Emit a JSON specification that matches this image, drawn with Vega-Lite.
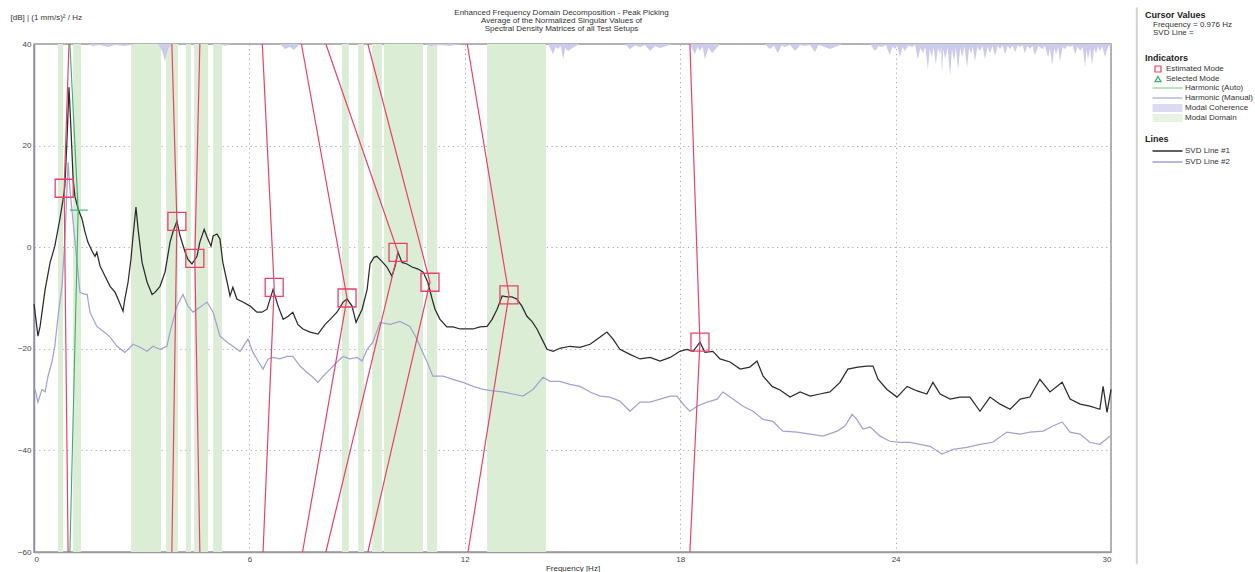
{
"$schema": "https://vega.github.io/schema/vega-lite/v6.json",
"width": 1077, "height": 508,
"autosize": {"type": "none"},
"padding": {"left": 34, "top": 44, "right": 144, "bottom": 20},
"background": "white",
"title": {"text": ["Enhanced Frequency Domain Decomposition - Peak Picking", "Average of the Normalized Singular Values of", "Spectral Density Matrices of all Test Setups"], "font": "Liberation Sans", "fontSize": 8, "fontWeight": "normal", "color": "#333", "lineHeight": 8, "anchor": "middle", "offset": -27, "dx": -11},
"config": {
  "font": "Liberation Sans",
  "view": {"stroke": "#9a9a9a", "strokeWidth": 1.5},
  "axis": {"labelFont": "Liberation Sans", "labelFontSize": 8, "labelColor": "#444", "titleFont": "Liberation Sans", "titleFontSize": 8, "titleFontWeight": "normal", "titleColor": "#333", "grid": true, "gridColor": "#a8a8a8", "gridDash": [1.2, 3.5], "gridWidth": 1, "ticks": false, "domain": true, "domainColor": "#9a9a9a", "domainWidth": 1.5, "zindex": 1},
  "axisX": {"labelPadding": 3, "titlePadding": 1},
  "axisY": {"labelPadding": 3, "titleAngle": 0, "titleAlign": "left", "titleBaseline": "middle", "titleX": -24, "titleY": -27, "domainColor": "#8c8cbf"},
  "legend": {"titleFont": "Liberation Sans", "titleFontSize": 9, "titleFontWeight": "bold", "titleColor": "#222", "labelFont": "Liberation Sans", "labelFontSize": 8, "labelColor": "#333", "padding": 0, "orient": "none"}
},
"datasets": {
  "bands": [{"f1":0.67,"f2":0.81},{"f1":1.09,"f2":1.31},{"f1":2.70,"f2":3.54},{"f1":3.68,"f2":4.01},{"f1":4.23,"f2":4.37},{"f1":4.46,"f2":4.85},{"f1":4.99,"f2":5.24},{"f1":8.58,"f2":8.77},{"f1":9.03,"f2":9.19},{"f1":9.42,"f2":9.69},{"f1":9.75,"f2":10.84},{"f1":10.95,"f2":11.23},{"f1":12.62,"f2":14.26}],
  "coh": [{"f":0,"db":40},{"f":1.50,"db":40},{"f":1.62,"db":39.6},{"f":1.84,"db":39.8},{"f":2.06,"db":39.4},{"f":2.26,"db":39.8},{"f":2.53,"db":39.6},{"f":2.81,"db":40},{"f":3.45,"db":40},{"f":3.57,"db":38.6},{"f":3.65,"db":36.6},{"f":3.73,"db":39.0},{"f":3.84,"db":40},{"f":5.18,"db":40},{"f":5.32,"db":39.6},{"f":5.46,"db":40},{"f":6.85,"db":40},{"f":6.99,"db":39.0},{"f":7.13,"db":39.4},{"f":7.24,"db":38.8},{"f":7.41,"db":40},{"f":10.89,"db":40},{"f":11.03,"db":39.6},{"f":11.31,"db":39.8},{"f":11.59,"db":39.6},{"f":11.87,"db":40},{"f":14.32,"db":40},{"f":14.46,"db":38.0},{"f":14.53,"db":39.4},{"f":14.60,"db":39.0},{"f":14.67,"db":39.6},{"f":14.74,"db":37.0},{"f":14.80,"db":39.2},{"f":14.87,"db":38.6},{"f":15.04,"db":39.4},{"f":15.21,"db":40},{"f":16.46,"db":40},{"f":16.60,"db":39.0},{"f":16.74,"db":39.7},{"f":16.88,"db":39.4},{"f":17.02,"db":39.8},{"f":17.16,"db":38.6},{"f":17.30,"db":39.6},{"f":17.44,"db":39.2},{"f":17.80,"db":40},{"f":18.27,"db":40},{"f":18.41,"db":38.0},{"f":18.48,"db":39.4},{"f":18.55,"db":38.6},{"f":18.62,"db":39.5},{"f":18.69,"db":37.0},{"f":18.79,"db":39.3},{"f":18.89,"db":38.2},{"f":19.11,"db":40},{"f":20.36,"db":40},{"f":20.50,"db":39.0},{"f":20.61,"db":39.7},{"f":20.72,"db":38.2},{"f":20.82,"db":39.7},{"f":20.92,"db":39.4},{"f":21.06,"db":39.8},{"f":21.20,"db":38.6},{"f":21.34,"db":39.8},{"f":21.48,"db":39.6},{"f":21.62,"db":39.8},{"f":21.75,"db":38.4},{"f":21.85,"db":39.8},{"f":21.95,"db":39.6},{"f":22.17,"db":39.0},{"f":22.53,"db":40},{"f":23.29,"db":40},{"f":23.43,"db":38.6},{"f":23.52,"db":39.6},{"f":23.62,"db":39.4},{"f":23.73,"db":39.8},{"f":23.84,"db":37.8},{"f":23.91,"db":39.5},{"f":23.98,"db":39.0},{"f":24.05,"db":39.6},{"f":24.12,"db":37.4},{"f":24.19,"db":39.4},{"f":24.26,"db":38.6},{"f":24.36,"db":39.7},{"f":24.46,"db":39.4},{"f":24.54,"db":39.8},{"f":24.62,"db":37.0},{"f":24.69,"db":39.2},{"f":24.76,"db":38.2},{"f":24.83,"db":39.4},{"f":24.90,"db":35.0},{"f":24.95,"db":39.0},{"f":25.01,"db":37.4},{"f":25.06,"db":39.4},{"f":25.12,"db":36.0},{"f":25.18,"db":39.2},{"f":25.24,"db":38.0},{"f":25.27,"db":39.5},{"f":25.29,"db":34.1},{"f":25.33,"db":39.0},{"f":25.38,"db":37.0},{"f":25.45,"db":39.2},{"f":25.52,"db":33.7},{"f":25.57,"db":39.0},{"f":25.63,"db":36.6},{"f":25.68,"db":39.3},{"f":25.74,"db":35.0},{"f":25.80,"db":39.2},{"f":25.85,"db":37.4},{"f":25.92,"db":39.5},{"f":25.99,"db":35.4},{"f":26.05,"db":39.3},{"f":26.10,"db":38.0},{"f":26.15,"db":39.5},{"f":26.21,"db":36.6},{"f":26.28,"db":39.4},{"f":26.35,"db":38.6},{"f":26.42,"db":39.6},{"f":26.49,"db":37.0},{"f":26.56,"db":39.5},{"f":26.63,"db":38.2},{"f":26.70,"db":39.6},{"f":26.77,"db":37.6},{"f":26.84,"db":39.6},{"f":26.91,"db":39.0},{"f":26.98,"db":39.7},{"f":27.05,"db":38.0},{"f":27.12,"db":39.6},{"f":27.19,"db":39.0},{"f":27.26,"db":39.7},{"f":27.33,"db":38.4},{"f":27.40,"db":39.7},{"f":27.47,"db":39.4},{"f":27.54,"db":39.8},{"f":27.60,"db":38.2},{"f":27.67,"db":39.6},{"f":27.74,"db":39.0},{"f":27.81,"db":39.6},{"f":27.88,"db":37.8},{"f":27.98,"db":39.6},{"f":28.08,"db":39.0},{"f":28.16,"db":39.6},{"f":28.25,"db":37.4},{"f":28.30,"db":39.2},{"f":28.36,"db":35.8},{"f":28.42,"db":39.2},{"f":28.47,"db":38.0},{"f":28.53,"db":39.4},{"f":28.58,"db":36.6},{"f":28.65,"db":39.4},{"f":28.72,"db":39.0},{"f":28.79,"db":39.7},{"f":28.86,"db":39.4},{"f":28.93,"db":39.7},{"f":29.00,"db":38.0},{"f":29.07,"db":39.5},{"f":29.14,"db":38.6},{"f":29.21,"db":39.4},{"f":29.28,"db":35.4},{"f":29.32,"db":39.0},{"f":29.36,"db":37.0},{"f":29.42,"db":39.2},{"f":29.47,"db":35.8},{"f":29.53,"db":39.2},{"f":29.58,"db":38.2},{"f":29.64,"db":39.5},{"f":29.69,"db":38.6},{"f":29.76,"db":39.5},{"f":29.83,"db":37.4},{"f":29.92,"db":39.5},{"f":30,"db":39.6}],
  "svd": [
{"line":"SVD Line #1","f":0,"db":-11.2},{"line":"SVD Line #1","f":0.06,"db":-14.6},{"line":"SVD Line #1","f":0.11,"db":-17.5},{"line":"SVD Line #1","f":0.17,"db":-15.6},{"line":"SVD Line #1","f":0.31,"db":-8.3},{"line":"SVD Line #1","f":0.45,"db":-3.0},{"line":"SVD Line #1","f":0.58,"db":0.2},{"line":"SVD Line #1","f":0.72,"db":5.5},{"line":"SVD Line #1","f":0.81,"db":9.4},{"line":"SVD Line #1","f":0.86,"db":12.0},{"line":"SVD Line #1","f":0.92,"db":21.3},{"line":"SVD Line #1","f":0.975,"db":31.5},{"line":"SVD Line #1","f":1.03,"db":23.2},{"line":"SVD Line #1","f":1.09,"db":13.4},{"line":"SVD Line #1","f":1.14,"db":10.0},{"line":"SVD Line #1","f":1.23,"db":7.5},{"line":"SVD Line #1","f":1.34,"db":5.5},{"line":"SVD Line #1","f":1.42,"db":3.0},{"line":"SVD Line #1","f":1.50,"db":1.0},{"line":"SVD Line #1","f":1.62,"db":-0.8},{"line":"SVD Line #1","f":1.70,"db":-1.8},{"line":"SVD Line #1","f":1.75,"db":-1.0},{"line":"SVD Line #1","f":1.84,"db":-3.7},{"line":"SVD Line #1","f":1.98,"db":-5.7},{"line":"SVD Line #1","f":2.12,"db":-7.7},{"line":"SVD Line #1","f":2.26,"db":-8.9},{"line":"SVD Line #1","f":2.34,"db":-10.2},{"line":"SVD Line #1","f":2.48,"db":-12.6},{"line":"SVD Line #1","f":2.53,"db":-10.2},{"line":"SVD Line #1","f":2.62,"db":-6.9},{"line":"SVD Line #1","f":2.70,"db":-2.4},{"line":"SVD Line #1","f":2.76,"db":2.2},{"line":"SVD Line #1","f":2.84,"db":7.9},{"line":"SVD Line #1","f":2.90,"db":3.5},{"line":"SVD Line #1","f":3.01,"db":-3.0},{"line":"SVD Line #1","f":3.15,"db":-6.9},{"line":"SVD Line #1","f":3.29,"db":-9.3},{"line":"SVD Line #1","f":3.37,"db":-8.9},{"line":"SVD Line #1","f":3.51,"db":-7.7},{"line":"SVD Line #1","f":3.65,"db":-4.9},{"line":"SVD Line #1","f":3.79,"db":1.0},{"line":"SVD Line #1","f":3.87,"db":3.0},{"line":"SVD Line #1","f":3.98,"db":5.1},{"line":"SVD Line #1","f":4.07,"db":2.2},{"line":"SVD Line #1","f":4.21,"db":-1.0},{"line":"SVD Line #1","f":4.29,"db":-2.4},{"line":"SVD Line #1","f":4.40,"db":-3.3},{"line":"SVD Line #1","f":4.54,"db":-1.8},{"line":"SVD Line #1","f":4.62,"db":1.0},{"line":"SVD Line #1","f":4.74,"db":3.5},{"line":"SVD Line #1","f":4.82,"db":2.0},{"line":"SVD Line #1","f":4.93,"db":0.2},{"line":"SVD Line #1","f":4.99,"db":2.2},{"line":"SVD Line #1","f":5.10,"db":2.6},{"line":"SVD Line #1","f":5.18,"db":1.6},{"line":"SVD Line #1","f":5.26,"db":-3.0},{"line":"SVD Line #1","f":5.38,"db":-6.9},{"line":"SVD Line #1","f":5.46,"db":-9.6},{"line":"SVD Line #1","f":5.54,"db":-7.9},{"line":"SVD Line #1","f":5.65,"db":-10.2},{"line":"SVD Line #1","f":5.82,"db":-10.8},{"line":"SVD Line #1","f":6.02,"db":-11.6},{"line":"SVD Line #1","f":6.21,"db":-12.8},{"line":"SVD Line #1","f":6.35,"db":-12.8},{"line":"SVD Line #1","f":6.49,"db":-12.2},{"line":"SVD Line #1","f":6.66,"db":-8.3},{"line":"SVD Line #1","f":6.80,"db":-11.6},{"line":"SVD Line #1","f":6.94,"db":-14.2},{"line":"SVD Line #1","f":7.08,"db":-13.6},{"line":"SVD Line #1","f":7.21,"db":-12.8},{"line":"SVD Line #1","f":7.35,"db":-15.2},{"line":"SVD Line #1","f":7.49,"db":-16.1},{"line":"SVD Line #1","f":7.69,"db":-16.7},{"line":"SVD Line #1","f":7.91,"db":-17.1},{"line":"SVD Line #1","f":8.11,"db":-15.2},{"line":"SVD Line #1","f":8.25,"db":-14.2},{"line":"SVD Line #1","f":8.44,"db":-12.8},{"line":"SVD Line #1","f":8.61,"db":-10.8},{"line":"SVD Line #1","f":8.72,"db":-10.2},{"line":"SVD Line #1","f":8.86,"db":-11.6},{"line":"SVD Line #1","f":8.97,"db":-14.8},{"line":"SVD Line #1","f":9.14,"db":-12.2},{"line":"SVD Line #1","f":9.28,"db":-8.3},{"line":"SVD Line #1","f":9.36,"db":-3.3},{"line":"SVD Line #1","f":9.47,"db":-2.0},{"line":"SVD Line #1","f":9.55,"db":-1.8},{"line":"SVD Line #1","f":9.69,"db":-2.8},{"line":"SVD Line #1","f":9.83,"db":-3.9},{"line":"SVD Line #1","f":9.97,"db":-5.7},{"line":"SVD Line #1","f":10.06,"db":-3.7},{"line":"SVD Line #1","f":10.14,"db":-1.0},{"line":"SVD Line #1","f":10.25,"db":-3.0},{"line":"SVD Line #1","f":10.39,"db":-3.3},{"line":"SVD Line #1","f":10.53,"db":-3.9},{"line":"SVD Line #1","f":10.70,"db":-4.3},{"line":"SVD Line #1","f":10.84,"db":-4.9},{"line":"SVD Line #1","f":10.97,"db":-6.9},{"line":"SVD Line #1","f":11.09,"db":-10.2},{"line":"SVD Line #1","f":11.17,"db":-12.2},{"line":"SVD Line #1","f":11.31,"db":-14.2},{"line":"SVD Line #1","f":11.50,"db":-15.7},{"line":"SVD Line #1","f":11.67,"db":-15.7},{"line":"SVD Line #1","f":11.87,"db":-16.1},{"line":"SVD Line #1","f":12.06,"db":-16.1},{"line":"SVD Line #1","f":12.23,"db":-16.1},{"line":"SVD Line #1","f":12.42,"db":-15.7},{"line":"SVD Line #1","f":12.62,"db":-15.6},{"line":"SVD Line #1","f":12.76,"db":-14.2},{"line":"SVD Line #1","f":12.90,"db":-12.2},{"line":"SVD Line #1","f":13.04,"db":-9.6},{"line":"SVD Line #1","f":13.18,"db":-9.8},{"line":"SVD Line #1","f":13.31,"db":-9.8},{"line":"SVD Line #1","f":13.45,"db":-10.2},{"line":"SVD Line #1","f":13.59,"db":-11.6},{"line":"SVD Line #1","f":13.73,"db":-13.6},{"line":"SVD Line #1","f":13.87,"db":-14.6},{"line":"SVD Line #1","f":14.01,"db":-16.1},{"line":"SVD Line #1","f":14.15,"db":-18.1},{"line":"SVD Line #1","f":14.29,"db":-20.1},{"line":"SVD Line #1","f":14.46,"db":-20.5},{"line":"SVD Line #1","f":14.65,"db":-19.9},{"line":"SVD Line #1","f":14.93,"db":-19.5},{"line":"SVD Line #1","f":15.21,"db":-19.7},{"line":"SVD Line #1","f":15.49,"db":-19.1},{"line":"SVD Line #1","f":15.77,"db":-17.7},{"line":"SVD Line #1","f":15.96,"db":-16.7},{"line":"SVD Line #1","f":16.13,"db":-18.1},{"line":"SVD Line #1","f":16.32,"db":-20.1},{"line":"SVD Line #1","f":16.60,"db":-21.1},{"line":"SVD Line #1","f":16.88,"db":-22.0},{"line":"SVD Line #1","f":17.16,"db":-21.7},{"line":"SVD Line #1","f":17.44,"db":-22.4},{"line":"SVD Line #1","f":17.72,"db":-21.7},{"line":"SVD Line #1","f":17.99,"db":-20.5},{"line":"SVD Line #1","f":18.19,"db":-20.1},{"line":"SVD Line #1","f":18.36,"db":-20.5},{"line":"SVD Line #1","f":18.55,"db":-18.7},{"line":"SVD Line #1","f":18.69,"db":-20.7},{"line":"SVD Line #1","f":18.91,"db":-20.5},{"line":"SVD Line #1","f":19.11,"db":-22.0},{"line":"SVD Line #1","f":19.39,"db":-22.6},{"line":"SVD Line #1","f":19.67,"db":-24.0},{"line":"SVD Line #1","f":19.94,"db":-23.6},{"line":"SVD Line #1","f":20.14,"db":-22.4},{"line":"SVD Line #1","f":20.31,"db":-25.4},{"line":"SVD Line #1","f":20.56,"db":-27.4},{"line":"SVD Line #1","f":20.78,"db":-28.1},{"line":"SVD Line #1","f":21.06,"db":-29.5},{"line":"SVD Line #1","f":21.34,"db":-28.5},{"line":"SVD Line #1","f":21.62,"db":-29.3},{"line":"SVD Line #1","f":21.89,"db":-28.9},{"line":"SVD Line #1","f":22.17,"db":-28.5},{"line":"SVD Line #1","f":22.45,"db":-26.6},{"line":"SVD Line #1","f":22.67,"db":-24.0},{"line":"SVD Line #1","f":22.95,"db":-23.6},{"line":"SVD Line #1","f":23.20,"db":-23.4},{"line":"SVD Line #1","f":23.37,"db":-23.4},{"line":"SVD Line #1","f":23.51,"db":-26.0},{"line":"SVD Line #1","f":23.76,"db":-28.0},{"line":"SVD Line #1","f":24.04,"db":-29.5},{"line":"SVD Line #1","f":24.32,"db":-27.4},{"line":"SVD Line #1","f":24.60,"db":-28.3},{"line":"SVD Line #1","f":24.87,"db":-28.9},{"line":"SVD Line #1","f":25.04,"db":-26.6},{"line":"SVD Line #1","f":25.24,"db":-28.9},{"line":"SVD Line #1","f":25.52,"db":-29.9},{"line":"SVD Line #1","f":25.79,"db":-29.5},{"line":"SVD Line #1","f":26.07,"db":-29.5},{"line":"SVD Line #1","f":26.35,"db":-32.3},{"line":"SVD Line #1","f":26.63,"db":-29.5},{"line":"SVD Line #1","f":26.91,"db":-30.9},{"line":"SVD Line #1","f":27.19,"db":-31.9},{"line":"SVD Line #1","f":27.47,"db":-29.9},{"line":"SVD Line #1","f":27.74,"db":-29.5},{"line":"SVD Line #1","f":28.02,"db":-26.0},{"line":"SVD Line #1","f":28.30,"db":-28.5},{"line":"SVD Line #1","f":28.64,"db":-26.6},{"line":"SVD Line #1","f":28.86,"db":-29.9},{"line":"SVD Line #1","f":29.14,"db":-30.9},{"line":"SVD Line #1","f":29.41,"db":-31.3},{"line":"SVD Line #1","f":29.69,"db":-31.9},{"line":"SVD Line #1","f":29.78,"db":-27.4},{"line":"SVD Line #1","f":29.89,"db":-32.5},{"line":"SVD Line #1","f":30.0,"db":-28.0},
{"line":"SVD Line #2","f":0.03,"db":-28.0},{"line":"SVD Line #2","f":0.11,"db":-30.5},{"line":"SVD Line #2","f":0.22,"db":-28.0},{"line":"SVD Line #2","f":0.31,"db":-28.5},{"line":"SVD Line #2","f":0.39,"db":-25.4},{"line":"SVD Line #2","f":0.50,"db":-22.6},{"line":"SVD Line #2","f":0.58,"db":-19.5},{"line":"SVD Line #2","f":0.67,"db":-13.6},{"line":"SVD Line #2","f":0.78,"db":-7.7},{"line":"SVD Line #2","f":0.86,"db":1.6},{"line":"SVD Line #2","f":0.95,"db":16.7},{"line":"SVD Line #2","f":1.0,"db":11.4},{"line":"SVD Line #2","f":1.09,"db":4.9},{"line":"SVD Line #2","f":1.20,"db":-3.0},{"line":"SVD Line #2","f":1.28,"db":-8.9},{"line":"SVD Line #2","f":1.42,"db":-9.3},{"line":"SVD Line #2","f":1.48,"db":-9.3},{"line":"SVD Line #2","f":1.56,"db":-12.8},{"line":"SVD Line #2","f":1.75,"db":-15.6},{"line":"SVD Line #2","f":1.92,"db":-16.5},{"line":"SVD Line #2","f":2.12,"db":-17.7},{"line":"SVD Line #2","f":2.31,"db":-19.5},{"line":"SVD Line #2","f":2.53,"db":-20.7},{"line":"SVD Line #2","f":2.76,"db":-19.1},{"line":"SVD Line #2","f":2.95,"db":-19.7},{"line":"SVD Line #2","f":3.15,"db":-20.5},{"line":"SVD Line #2","f":3.31,"db":-19.5},{"line":"SVD Line #2","f":3.51,"db":-20.1},{"line":"SVD Line #2","f":3.70,"db":-19.5},{"line":"SVD Line #2","f":3.79,"db":-16.7},{"line":"SVD Line #2","f":3.98,"db":-11.6},{"line":"SVD Line #2","f":4.15,"db":-9.3},{"line":"SVD Line #2","f":4.29,"db":-11.6},{"line":"SVD Line #2","f":4.43,"db":-12.8},{"line":"SVD Line #2","f":4.62,"db":-11.8},{"line":"SVD Line #2","f":4.82,"db":-10.8},{"line":"SVD Line #2","f":4.99,"db":-12.8},{"line":"SVD Line #2","f":5.18,"db":-17.5},{"line":"SVD Line #2","f":5.38,"db":-18.7},{"line":"SVD Line #2","f":5.54,"db":-19.5},{"line":"SVD Line #2","f":5.74,"db":-20.5},{"line":"SVD Line #2","f":5.96,"db":-18.1},{"line":"SVD Line #2","f":6.10,"db":-20.7},{"line":"SVD Line #2","f":6.24,"db":-22.4},{"line":"SVD Line #2","f":6.38,"db":-24.0},{"line":"SVD Line #2","f":6.52,"db":-22.0},{"line":"SVD Line #2","f":6.66,"db":-21.7},{"line":"SVD Line #2","f":6.85,"db":-22.0},{"line":"SVD Line #2","f":7.05,"db":-21.5},{"line":"SVD Line #2","f":7.21,"db":-21.5},{"line":"SVD Line #2","f":7.41,"db":-23.4},{"line":"SVD Line #2","f":7.60,"db":-24.6},{"line":"SVD Line #2","f":7.77,"db":-25.6},{"line":"SVD Line #2","f":7.91,"db":-26.6},{"line":"SVD Line #2","f":8.05,"db":-25.4},{"line":"SVD Line #2","f":8.25,"db":-24.0},{"line":"SVD Line #2","f":8.44,"db":-22.6},{"line":"SVD Line #2","f":8.61,"db":-21.5},{"line":"SVD Line #2","f":8.80,"db":-22.0},{"line":"SVD Line #2","f":9.00,"db":-21.7},{"line":"SVD Line #2","f":9.14,"db":-22.4},{"line":"SVD Line #2","f":9.28,"db":-20.1},{"line":"SVD Line #2","f":9.44,"db":-18.7},{"line":"SVD Line #2","f":9.64,"db":-14.8},{"line":"SVD Line #2","f":9.92,"db":-15.2},{"line":"SVD Line #2","f":10.19,"db":-14.6},{"line":"SVD Line #2","f":10.47,"db":-15.6},{"line":"SVD Line #2","f":10.67,"db":-18.1},{"line":"SVD Line #2","f":10.75,"db":-19.5},{"line":"SVD Line #2","f":10.95,"db":-22.6},{"line":"SVD Line #2","f":11.11,"db":-25.4},{"line":"SVD Line #2","f":11.39,"db":-25.4},{"line":"SVD Line #2","f":11.67,"db":-26.0},{"line":"SVD Line #2","f":11.95,"db":-26.6},{"line":"SVD Line #2","f":12.23,"db":-27.4},{"line":"SVD Line #2","f":12.51,"db":-28.0},{"line":"SVD Line #2","f":12.79,"db":-28.3},{"line":"SVD Line #2","f":13.06,"db":-28.5},{"line":"SVD Line #2","f":13.34,"db":-28.9},{"line":"SVD Line #2","f":13.62,"db":-29.3},{"line":"SVD Line #2","f":13.90,"db":-28.0},{"line":"SVD Line #2","f":14.18,"db":-25.6},{"line":"SVD Line #2","f":14.37,"db":-26.4},{"line":"SVD Line #2","f":14.65,"db":-26.4},{"line":"SVD Line #2","f":14.93,"db":-27.0},{"line":"SVD Line #2","f":15.21,"db":-27.4},{"line":"SVD Line #2","f":15.49,"db":-28.5},{"line":"SVD Line #2","f":15.77,"db":-29.3},{"line":"SVD Line #2","f":16.04,"db":-29.5},{"line":"SVD Line #2","f":16.32,"db":-30.3},{"line":"SVD Line #2","f":16.60,"db":-32.3},{"line":"SVD Line #2","f":16.88,"db":-30.5},{"line":"SVD Line #2","f":17.16,"db":-30.5},{"line":"SVD Line #2","f":17.44,"db":-29.9},{"line":"SVD Line #2","f":17.72,"db":-29.3},{"line":"SVD Line #2","f":17.91,"db":-29.3},{"line":"SVD Line #2","f":18.08,"db":-30.9},{"line":"SVD Line #2","f":18.27,"db":-32.3},{"line":"SVD Line #2","f":18.47,"db":-31.3},{"line":"SVD Line #2","f":18.75,"db":-30.5},{"line":"SVD Line #2","f":19.03,"db":-29.9},{"line":"SVD Line #2","f":19.19,"db":-28.5},{"line":"SVD Line #2","f":19.47,"db":-29.9},{"line":"SVD Line #2","f":19.75,"db":-31.3},{"line":"SVD Line #2","f":20.03,"db":-32.3},{"line":"SVD Line #2","f":20.31,"db":-33.9},{"line":"SVD Line #2","f":20.58,"db":-34.3},{"line":"SVD Line #2","f":20.86,"db":-36.2},{"line":"SVD Line #2","f":21.25,"db":-36.4},{"line":"SVD Line #2","f":21.62,"db":-36.8},{"line":"SVD Line #2","f":21.98,"db":-37.2},{"line":"SVD Line #2","f":22.37,"db":-36.2},{"line":"SVD Line #2","f":22.59,"db":-35.2},{"line":"SVD Line #2","f":22.79,"db":-32.9},{"line":"SVD Line #2","f":22.92,"db":-33.9},{"line":"SVD Line #2","f":23.09,"db":-35.8},{"line":"SVD Line #2","f":23.29,"db":-35.4},{"line":"SVD Line #2","f":23.57,"db":-37.2},{"line":"SVD Line #2","f":23.84,"db":-38.2},{"line":"SVD Line #2","f":24.12,"db":-38.4},{"line":"SVD Line #2","f":24.40,"db":-38.4},{"line":"SVD Line #2","f":24.68,"db":-38.8},{"line":"SVD Line #2","f":24.96,"db":-39.2},{"line":"SVD Line #2","f":25.29,"db":-40.7},{"line":"SVD Line #2","f":25.60,"db":-39.8},{"line":"SVD Line #2","f":25.99,"db":-39.4},{"line":"SVD Line #2","f":26.35,"db":-38.8},{"line":"SVD Line #2","f":26.71,"db":-38.4},{"line":"SVD Line #2","f":27.10,"db":-36.4},{"line":"SVD Line #2","f":27.47,"db":-36.8},{"line":"SVD Line #2","f":27.74,"db":-36.4},{"line":"SVD Line #2","f":28.11,"db":-36.2},{"line":"SVD Line #2","f":28.38,"db":-35.2},{"line":"SVD Line #2","f":28.64,"db":-34.4},{"line":"SVD Line #2","f":28.86,"db":-36.4},{"line":"SVD Line #2","f":29.14,"db":-36.8},{"line":"SVD Line #2","f":29.41,"db":-38.4},{"line":"SVD Line #2","f":29.69,"db":-38.8},{"line":"SVD Line #2","f":29.97,"db":-37.2}
  ],
  "vlines": [{"m":1,"o":0,"f":0.975,"db":40},{"m":1,"o":1,"f":0.84,"db":11.6},{"m":1,"o":2,"f":0.95,"db":-60},{"m":2,"o":0,"f":3.84,"db":40},{"m":2,"o":1,"f":3.98,"db":5.1},{"m":2,"o":2,"f":3.84,"db":-60},{"m":3,"o":0,"f":4.62,"db":40},{"m":3,"o":1,"f":4.48,"db":-2.2},{"m":3,"o":2,"f":4.62,"db":-60},{"m":4,"o":0,"f":6.36,"db":40},{"m":4,"o":1,"f":6.69,"db":-7.9},{"m":4,"o":2,"f":6.38,"db":-60},{"m":5,"o":0,"f":7.45,"db":40},{"m":5,"o":1,"f":8.72,"db":-10.0},{"m":5,"o":2,"f":7.48,"db":-60},{"m":6,"o":0,"f":8.13,"db":40},{"m":6,"o":1,"f":10.14,"db":-1.0},{"m":6,"o":2,"f":8.13,"db":-60},{"m":7,"o":0,"f":9.30,"db":40},{"m":7,"o":1,"f":11.03,"db":-6.9},{"m":7,"o":2,"f":9.30,"db":-60},{"m":8,"o":0,"f":12.07,"db":40},{"m":8,"o":1,"f":13.23,"db":-9.4},{"m":8,"o":2,"f":12.09,"db":-60},{"m":9,"o":0,"f":18.27,"db":40},{"m":9,"o":1,"f":18.55,"db":-18.7},{"m":9,"o":2,"f":18.27,"db":-60}],
  "harm": [{"o":0,"f":1.0,"db":40},{"o":1,"f":1.23,"db":7.3},{"o":2,"f":1.0,"db":-60}],
  "cross": [{"f":1.0,"f2":1.5,"db":7.3}],
  "modes": [{"f":0.84,"db":11.6,"kind":"Estimated Mode"},{"f":3.98,"db":5.1,"kind":"Estimated Mode"},{"f":4.48,"db":-2.2,"kind":"Estimated Mode"},{"f":6.69,"db":-7.9,"kind":"Estimated Mode"},{"f":8.72,"db":-10.0,"kind":"Estimated Mode"},{"f":10.14,"db":-1.0,"kind":"Estimated Mode"},{"f":11.03,"db":-6.9,"kind":"Estimated Mode"},{"f":13.23,"db":-9.4,"kind":"Estimated Mode"},{"f":18.55,"db":-18.7,"kind":"Estimated Mode"}],
  "cursor": [{"cv":"Frequency = 0.976 Hz"},{"cv":"SVD Line ="}],
  "ind": [{"k":"Harmonic (Auto)"},{"k":"Harmonic (Manual)"},{"k":"Modal Coherence"},{"k":"Modal Domain"}]
},
"layer": [
  {"data": {"name": "bands"}, "mark": {"type": "rect", "color": "#dcedd5"},
   "encoding": {"x": {"field": "f1", "type": "quantitative", "scale": {"domain": [0, 30]}, "title": "Frequency [Hz]", "axis": {"values": [0, 6, 12, 18, 24, 30]}}, "x2": {"field": "f2"}}},
  {"data": {"name": "coh"}, "mark": {"type": "area", "color": "#cbcbeb", "opacity": 1},
   "encoding": {"x": {"field": "f", "type": "quantitative", "scale": {"domain": [0, 30]}, "title": "Frequency [Hz]", "axis": {"values": [0, 6, 12, 18, 24, 30]}}, "y": {"field": "db", "type": "quantitative", "scale": {"domain": [-60, 40]}, "title": "[dB] | (1 mm/s)² / Hz", "axis": {"values": [-60, -40, -20, 0, 20, 40]}}, "y2": {"datum": 40}}},
  {"data": {"name": "svd"}, "mark": {"type": "line", "strokeWidth": 1.25, "interpolate": "linear"},
   "encoding": {"x": {"field": "f", "type": "quantitative", "scale": {"domain": [0, 30]}, "title": "Frequency [Hz]", "axis": {"values": [0, 6, 12, 18, 24, 30]}}, "y": {"field": "db", "type": "quantitative", "scale": {"domain": [-60, 40]}, "title": "[dB] | (1 mm/s)² / Hz", "axis": {"values": [-60, -40, -20, 0, 20, 40]}},
     "color": {"field": "line", "type": "nominal", "scale": {"domain": ["SVD Line #1", "SVD Line #2"], "range": ["#2b2b2b", "#a2a2d4"]},
       "legend": {"title": "Lines", "orient": "none", "legendX": 1111, "legendY": 91, "symbolType": "M-3,0L3,0", "symbolSize": 100, "symbolStrokeWidth": 1.5, "symbolOffset": 16.5, "labelOffset": 11.5, "rowPadding": 1, "titlePadding": 1}}}},
  {"data": {"name": "vlines"}, "mark": {"type": "line", "color": "#e8426b", "strokeWidth": 1.2},
   "encoding": {"x": {"field": "f", "type": "quantitative", "scale": {"domain": [0, 30]}, "title": "Frequency [Hz]"}, "y": {"field": "db", "type": "quantitative", "scale": {"domain": [-60, 40]}, "title": "[dB] | (1 mm/s)² / Hz"}, "detail": {"field": "m", "type": "nominal"}, "order": {"field": "o", "type": "quantitative"}}},
  {"data": {"name": "harm"}, "mark": {"type": "line", "color": "#3aae6a", "strokeWidth": 1.1},
   "encoding": {"x": {"field": "f", "type": "quantitative", "scale": {"domain": [0, 30]}, "title": "Frequency [Hz]"}, "y": {"field": "db", "type": "quantitative", "scale": {"domain": [-60, 40]}, "title": "[dB] | (1 mm/s)² / Hz"}, "order": {"field": "o", "type": "quantitative"}}},
  {"data": {"name": "cross"}, "mark": {"type": "rule", "color": "#3aae6a", "strokeWidth": 1.1},
   "encoding": {"x": {"field": "f", "type": "quantitative", "scale": {"domain": [0, 30]}, "title": "Frequency [Hz]"}, "x2": {"field": "f2"}, "y": {"field": "db", "type": "quantitative", "scale": {"domain": [-60, 40]}, "title": "[dB] | (1 mm/s)² / Hz"}}},
  {"data": {"name": "modes"}, "mark": {"type": "point", "filled": false, "size": 324, "strokeWidth": 1.3, "opacity": 1},
   "encoding": {"x": {"field": "f", "type": "quantitative", "scale": {"domain": [0, 30]}, "title": "Frequency [Hz]"}, "y": {"field": "db", "type": "quantitative", "scale": {"domain": [-60, 40]}, "title": "[dB] | (1 mm/s)² / Hz"},
     "shape": {"field": "kind", "type": "nominal", "scale": {"domain": ["Estimated Mode", "Selected Mode"], "range": ["square", "triangle-up"]},
       "legend": {"title": "Indicators", "orient": "none", "legendX": 1111, "legendY": 10, "symbolSize": 36, "symbolStrokeWidth": 1.2, "symbolOffset": 9, "labelOffset": 4, "rowPadding": -2, "titlePadding": 2}},
     "stroke": {"field": "kind", "type": "nominal", "scale": {"domain": ["Estimated Mode", "Selected Mode"], "range": ["#e8426b", "#3aae6a"]},
       "legend": {"title": "Indicators", "orient": "none", "legendX": 1111, "legendY": 10, "symbolSize": 36, "symbolStrokeWidth": 1.2, "symbolOffset": 9, "labelOffset": 4, "rowPadding": -2, "titlePadding": 2}}}},
  {"data": {"values": [{}]}, "mark": {"type": "rule", "color": "#d2d2d2", "strokeWidth": 2, "clip": false},
   "encoding": {"x": {"datum": 30.72, "title": "Frequency [Hz]"}, "y": {"datum": 47.2, "title": "[dB] | (1 mm/s)² / Hz"}, "y2": {"datum": -62.4}}},
  {"data": {"name": "cursor"}, "mark": {"type": "point", "clip": true, "filled": true},
   "encoding": {"x": {"datum": 45, "title": "Frequency [Hz]"}, "y": {"datum": 0, "title": "[dB] | (1 mm/s)² / Hz"},
     "shape": {"field": "cv", "type": "nominal", "scale": {"domain": ["Frequency = 0.976 Hz", "SVD Line ="], "range": ["circle", "circle"]},
       "legend": {"title": "Cursor Values", "orient": "none", "legendX": 1111, "legendY": -33, "symbolOpacity": 0, "symbolSize": 1, "symbolStrokeWidth": 0, "labelOffset": 0, "rowPadding": 0, "titlePadding": 1}}}},
  {"data": {"name": "ind"}, "mark": {"type": "point", "clip": true, "filled": true, "strokeWidth": 0},
   "encoding": {"x": {"datum": 45, "title": "Frequency [Hz]"}, "y": {"datum": 0, "title": "[dB] | (1 mm/s)² / Hz"},
     "shape": {"field": "k", "type": "nominal", "scale": {"domain": ["Harmonic (Auto)", "Harmonic (Manual)", "Modal Coherence", "Modal Domain"], "range": ["M-3,-0.12L3,-0.12L3,0.12L-3,0.12Z", "M-3,-0.12L3,-0.12L3,0.12L-3,0.12Z", "M-3,-0.8L3,-0.8L3,0.8L-3,0.8Z", "M-3,-0.8L3,-0.8L3,0.8L-3,0.8Z"]},
       "legend": {"title": null, "orient": "none", "legendX": 1111, "legendY": 39, "symbolSize": 100, "symbolStrokeWidth": 0, "symbolOffset": 17.5, "labelOffset": 12.5, "rowPadding": 1}},
     "color": {"field": "k", "type": "nominal", "scale": {"domain": ["Harmonic (Auto)", "Harmonic (Manual)", "Modal Coherence", "Modal Domain"], "range": ["#5cb85c", "#7b7bc8", "#cbcbeb", "#dcedd5"]},
       "legend": {"title": null, "orient": "none", "legendX": 1111, "legendY": 39, "symbolSize": 100, "symbolStrokeWidth": 0, "symbolOffset": 17.5, "labelOffset": 12.5, "rowPadding": 1}}}}
],
"resolve": {"scale": {"color": "independent", "shape": "independent", "stroke": "independent"}}
}
